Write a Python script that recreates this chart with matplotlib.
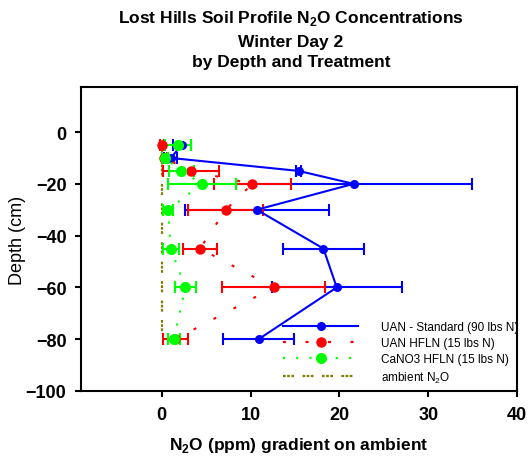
import matplotlib
matplotlib.use('Agg')
import matplotlib.pyplot as plt
from matplotlib.lines import Line2D

plt.rcParams['font.family'] = ['Liberation Sans', 'DejaVu Sans']
plt.rcParams['mathtext.fontset'] = 'custom'
plt.rcParams['mathtext.rm'] = 'Liberation Sans'
plt.rcParams['mathtext.bf'] = 'Liberation Sans:bold'
plt.rcParams['lines.scale_dashes'] = False

# Sampling depths (cm) and N2O gradient on ambient (ppm) per treatment
depth = [-5, -10, -15, -20, -30, -45, -60, -80]

uan_std = [2.25, 1.0, 15.4, 21.6, 10.7, 18.2, 19.7, 10.9]
uan_std_err = [1.0, 0.7, 0.25, 13.3, 8.1, 4.6, 7.3, 4.0]

uan_hfln = [0.0, 0.3, 3.25, 10.2, 7.2, 4.3, 12.6, 1.5]
uan_hfln_err = [0.2, 0.3, 3.15, 4.3, 4.2, 1.9, 5.8, 1.4]

cano3_hfln = [1.85, 0.35, 2.2, 4.55, 0.7, 1.0, 2.65, 1.35]
cano3_hfln_err = [1.45, 0.3, 1.4, 3.85, 0.6, 0.9, 1.15, 0.65]

ambient = [0, 0, 0, 0, 0, 0, 0, 0]

# line styles per series: (color, dashes, marker size)
styles = {
    'std': ('#0000FF', None, 5.5),
    'hfln': ('#FF0000', [2.2, 14], 6.5),
    'cano3': ('#00FF00', [1.5, 8], 7),
}
amb_color = '#808000'
amb_dashes = [2, 1, 2, 1, 2, 6]

fig = plt.figure(figsize=(5.30, 4.64), dpi=100)
ax = fig.add_axes([81 / 530, 1 - 392 / 464, 436 / 530, 304 / 464])

ax.plot(ambient, depth, color=amb_color, lw=1.6, dashes=amb_dashes)

for key, xs, errs in [('std', uan_std, uan_std_err),
                      ('hfln', uan_hfln, uan_hfln_err),
                      ('cano3', cano3_hfln, cano3_hfln_err)]:
    color, dashes, ms = styles[key]
    kw = {'dashes': dashes} if dashes else {}
    ax.errorbar(xs, depth, xerr=errs, color=color, lw=1.5, elinewidth=1.5,
                capsize=4.5, capthick=1.5, marker='o', ms=ms, **kw)

ax.set_xlim(-9.1, 40)
ax.set_ylim(-100, 17.4)
ax.set_xticks([0, 10, 20, 30, 40])
ax.set_yticks([0, -20, -40, -60, -80, -100])

for s in ax.spines.values():
    s.set_linewidth(1.5)
ax.tick_params(direction='out', length=4.5, width=1.5, pad=6, labelsize=13)
for lbl in ax.get_xticklabels() + ax.get_yticklabels():
    lbl.set_fontweight('bold')

ax.set_xlabel(r'N$_\mathbf{2}$O (ppm) gradient on ambient', fontsize=12.5,
              fontweight='bold', labelpad=9)
ax.set_ylabel('Depth (cm)', fontsize=13, labelpad=0)

title_lines = [r'Lost Hills Soil Profile N$_\mathbf{2}$O Concentrations',
               'Winter Day 2', 'by Depth and Treatment']
for txt, ypx in zip(title_lines, [19, 42, 63]):
    fig.text(291 / 530, 1 - ypx / 464, txt, ha='center', va='center',
             fontsize=12.5, fontweight='bold')

handles = [
    Line2D([], [], color=styles['std'][0], lw=1.5, marker='o', ms=5.5),
    Line2D([], [], color=styles['hfln'][0], lw=1.6, dashes=styles['hfln'][1],
           marker='o', ms=6.5),
    Line2D([], [], color=styles['cano3'][0], lw=1.6, dashes=styles['cano3'][1],
           marker='o', ms=7),
    Line2D([], [], color=amb_color, lw=1.6, dashes=amb_dashes),
]
labels = ['UAN - Standard (90 lbs N)', 'UAN HFLN (15 lbs N)',
          'CaNO3 HFLN (15 lbs N)', 'ambient N$_2$O']
ax.legend(handles, labels, loc='upper left', bbox_to_anchor=(0.463, 0.23),
          frameon=False, fontsize=8.5, handlelength=6.4, handletextpad=1.9,
          labelspacing=0.35, borderpad=0, borderaxespad=0)

fig.savefig('out.png', dpi=100)
